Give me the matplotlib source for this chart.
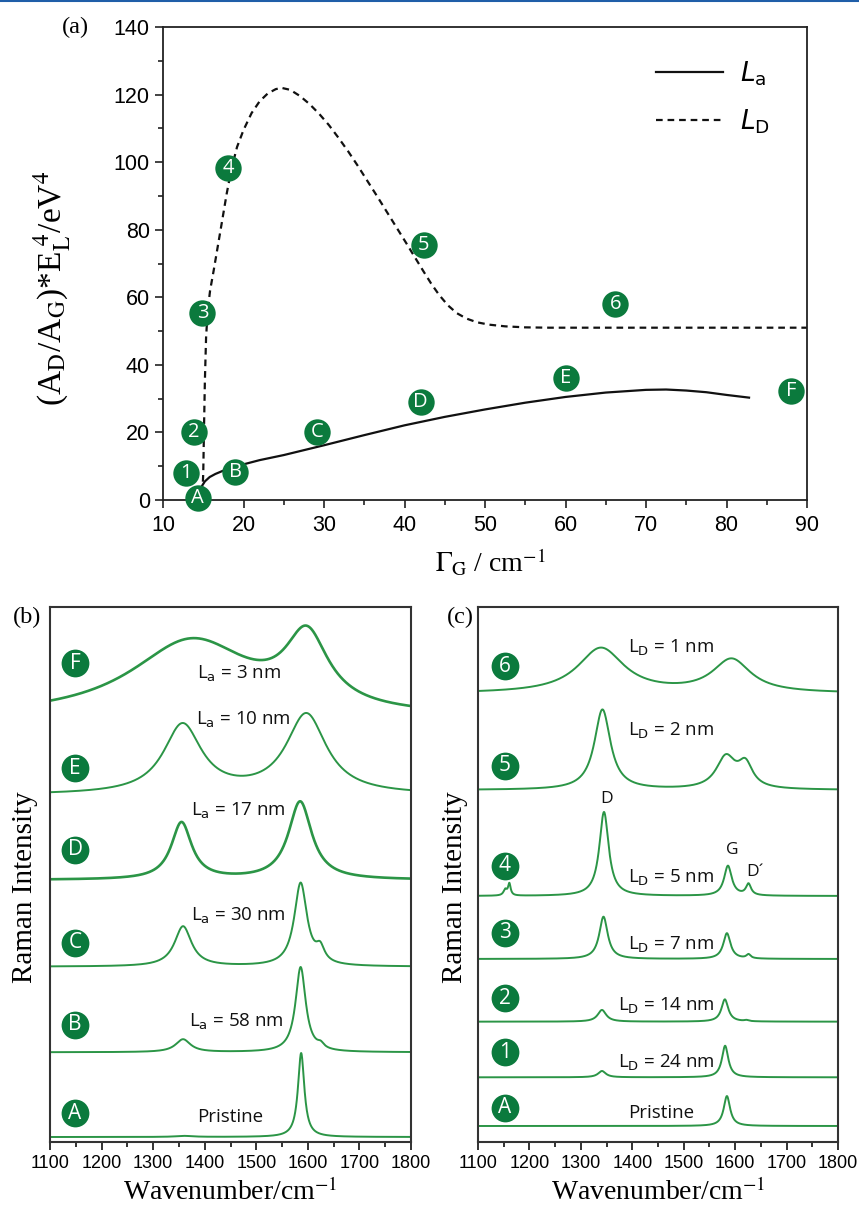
import numpy as np
import matplotlib
matplotlib.use('Agg')
import matplotlib.pyplot as plt
from matplotlib.ticker import MultipleLocator
from matplotlib.lines import Line2D

plt.rcParams['font.family'] = ['Liberation Sans', 'DejaVu Sans']
plt.rcParams['mathtext.fontset'] = 'stix'

# ---------------- Panel (a) data ----------------
La_x = [14.8, 15.2, 15.8, 16.5, 17.5, 18.5, 19.6, 22.0, 25.0, 30.0, 35.0, 40.0, 45.0,
        50.0, 55.0, 60.0, 65.0, 70.0, 72.5, 75.0, 77.5, 80.0, 82.8]
La_y = [4.0, 5.5, 6.8, 7.7, 8.7, 9.6, 10.3, 11.8, 13.3, 16.2, 19.2, 22.1, 24.6,
        26.8, 28.8, 30.5, 31.8, 32.6, 32.7, 32.4, 31.9, 31.1, 30.3]

LD_x = [14.9, 15.0, 15.1, 15.2, 15.35, 15.55, 15.85, 16.3, 16.8, 17.3, 17.9, 18.5,
        19.2, 20.0, 21.0, 22.0, 23.0, 24.0, 24.7, 25.8, 27.0, 28.2, 29.4, 30.6, 31.8,
        33.0, 34.2, 35.4, 36.6, 37.8, 39.0, 40.2, 41.3, 42.3, 43.3, 44.3, 45.4, 46.5,
        47.7, 49.0, 50.5, 52.5, 55.0, 58.0, 70.0, 80.0, 90.0]
LD_y = [2.0, 8.0, 22.0, 35.0, 48.0, 56.0, 62.0, 68.0, 75.0, 82.0, 90.5, 98.0,
        104.5, 109.5, 114.5, 118.0, 120.3, 121.6, 122.0, 121.4, 119.6, 117.2, 114.3, 111.0, 107.2,
        103.2, 98.9, 94.4, 89.9, 85.3, 80.7, 76.1, 71.8, 67.9, 64.1, 60.7, 57.6, 55.3,
        53.7, 52.6, 51.9, 51.4, 51.1, 51.0, 51.0, 51.0, 51.0]

pt_labels = ['1', '2', '3', '4', '5', '6', 'A', 'B', 'C', 'D', 'E', 'F']
pt_x = [12.9, 13.8, 14.9, 18.1, 42.4, 66.2, 14.3, 19.0, 29.1, 42.0, 60.0, 88.0]
pt_y = [7.9, 20.0, 55.3, 98.2, 75.4, 58.0, 0.5, 8.2, 20.0, 29.0, 36.1, 32.2]

# ---------------- Panel (b) data ----------------
# each spectrum: baseline, peaks (position cm-1, height, FWHM)
b_names = ['A', 'B', 'C', 'D', 'E', 'F']
b_baseline = [0.93, 16.77, 32.77, 48.97, 64.86, 79.25]
b_peaks = [
    [(1360, 0.2, 40), (1587, 15.7, 15)],
    [(1358, 2.4, 35), (1586, 15.9, 24), (1625, 0.8, 15)],
    [(1358, 7.5, 40), (1586, 15.5, 30), (1624, 2.6, 20)],
    [(1355, 10.65, 48), (1585, 14.6, 55)],
    [(1357, 12.9, 90), (1597, 14.9, 95)],
    [(1375, 14.3, 290), (1598, 13.0, 100)],
]
b_texts = ['Pristine', r'L$_\mathrm{a}$ = 58 nm', r'L$_\mathrm{a}$ = 30 nm',
           r'L$_\mathrm{a}$ = 17 nm', r'L$_\mathrm{a}$ = 10 nm', r'L$_\mathrm{a}$ = 3 nm']
b_text_x = [1449, 1462, 1466, 1466, 1474, 1466]
b_text_y = [5.05, 23.0, 42.8, 62.4, 79.4, 88.0]
b_circle_y = [5.4, 21.9, 37.2, 54.6, 69.9, 89.5]
b_lw = [1.4, 1.4, 1.4, 1.9, 1.4, 1.9]

# ---------------- Panel (c) data ----------------
c_names = ['A', '1', '2', '3', '4', '5', '6']
c_baseline = [2.99, 12.09, 22.49, 34.21, 45.98, 65.79, 83.83]
c_peaks = [
    [(1584, 5.6, 15)],
    [(1341, 1.18, 18), (1580.5, 5.9, 15)],
    [(1341, 2.19, 20), (1580, 4.17, 16), (1622, 0.2, 10)],
    [(1344, 7.9, 20), (1584, 4.8, 17), (1626, 0.75, 10)],
    [(1153, 1.1, 8), (1161, 2.2, 6), (1345, 15.7, 22), (1586, 5.6, 18), (1626, 2.1, 12)],
    [(1342, 15.0, 38), (1582, 5.9, 46), (1620, 4.3, 34)],
    [(1339, 8.4, 110), (1593, 6.2, 90)],
]
c_texts = ['Pristine', r'L$_\mathrm{D}$ = 24 nm', r'L$_\mathrm{D}$ = 14 nm',
           r'L$_\mathrm{D}$ = 7 nm', r'L$_\mathrm{D}$ = 5 nm', r'L$_\mathrm{D}$ = 2 nm',
           r'L$_\mathrm{D}$ = 1 nm']
c_text_x = [1456, 1466, 1466, 1475, 1475, 1475, 1475]
c_text_y = [5.85, 15.3, 26.0, 37.4, 49.9, 77.4, 92.8]
c_circle_y = [6.4, 16.8, 26.9, 39.07, 51.6, 70.3, 88.97]
band_names = ['D', 'G', 'D´']
band_x = [1350, 1594, 1639]
band_y = [64.2, 54.5, 50.4]

GREEN_DOT = '#0b7a3d'
GREEN_LINE = '#2b9546'
wn = np.linspace(1100, 1800, 1401)


def spectrum(base, peaks):
    y = np.full_like(wn, base)
    for pos, h, w in peaks:
        y += h / (1 + ((wn - pos) / (w / 2.0)) ** 2)
    return y


W, H = 859, 1205
fig = plt.figure(figsize=(W / 100, H / 100), dpi=100)
fig.add_artist(Line2D([0, 1], [1 - 1 / H, 1 - 1 / H], transform=fig.transFigure,
                      color='#1f5ea8', lw=1.5))

axA = fig.add_axes([163 / W, 1 - 500 / H, (807 - 163) / W, (500 - 27) / H])
axB = fig.add_axes([50 / W, 1 - 1142 / H, 361 / W, 535 / H])
axC = fig.add_axes([478 / W, 1 - 1142 / H, 360 / W, 535 / H])

# ---------------- Panel (a) ----------------
axA.plot(La_x, La_y, color='#111111', lw=1.6, label=r'$L_\mathrm{a}$')
axA.plot(LD_x, LD_y, color='#111111', lw=1.6, ls=(0, (3, 2.2)), label=r'$L_\mathrm{D}$')
axA.set_xlim(10, 90)
axA.set_ylim(0, 140)
axA.xaxis.set_major_locator(MultipleLocator(10))
axA.xaxis.set_minor_locator(MultipleLocator(5))
axA.yaxis.set_major_locator(MultipleLocator(20))
axA.yaxis.set_minor_locator(MultipleLocator(10))
axA.tick_params(which='both', direction='out', top=False, right=False, width=1.2,
                labelsize=15.5, color='#222222')
axA.tick_params(which='major', length=6)
axA.tick_params(which='minor', length=3.6)
axA.tick_params(axis='x', pad=5)
for s in axA.spines.values():
    s.set_linewidth(1.3)
    s.set_color('#222222')
axA.plot(pt_x, pt_y, 'o', ms=19, color=GREEN_DOT, mec='none', clip_on=False, zorder=5)
for lab, x, y in zip(pt_labels, pt_x, pt_y):
    axA.text(x, y, lab, color='white', ha='center', va='center', fontsize=14.5,
             family='Open Sans', zorder=6, clip_on=False)
leg = axA.legend(loc='upper left', bbox_to_anchor=(0.7655, 0.932), frameon=False,
                 borderaxespad=0, borderpad=0, handlelength=2.54, handletextpad=0.64,
                 labelspacing=0.75, prop={'size': 19, 'math_fontfamily': 'dejavusans'})
axA.set_ylabel(r'(A$_\mathrm{D}$/A$_\mathrm{G}$)*E$_\mathrm{L}^{\ 4}$/eV$^4$',
               family='Liberation Serif', fontsize=24)
axA.yaxis.label.set_va('center')
axA.yaxis.set_label_coords(-0.172, 0.448)
axA.set_xlabel(r'$\Gamma_\mathrm{G}$ / cm$^{-1}$', family='Liberation Serif', fontsize=20)
axA.xaxis.label.set_va('center')
axA.xaxis.set_label_coords(0.508, -0.132)
fig.text(75 / W, 1 - 27 / H, '(a)', family='Liberation Serif', fontsize=17.5,
         ha='center', va='center')


# ---------------- Panels (b), (c) ----------------
def style_spec(ax):
    ax.set_xlim(1100, 1800)
    ax.set_ylim(0, 100)
    ax.xaxis.set_major_locator(MultipleLocator(100))
    ax.xaxis.set_minor_locator(MultipleLocator(50))
    ax.set_yticks([])
    ax.tick_params(which='both', direction='out', top=False, right=False, left=False,
                   width=1.3, labelsize=13, color='#222222')
    ax.tick_params(which='major', length=5.5)
    ax.tick_params(which='minor', length=3.3)
    for s in ax.spines.values():
        s.set_linewidth(1.5)
        s.set_color('#333333')
    ax.set_xlabel('Wavenumber/cm$^{-1}$', family='Liberation Serif', fontsize=20)
    ax.xaxis.label.set_va('center')
    ax.xaxis.set_label_coords(0.5, -0.093)
    ax.set_ylabel('Raman Intensity', family='Liberation Serif', fontsize=21)
    ax.yaxis.label.set_va('center')


style_spec(axB)
axB.yaxis.set_label_coords(-0.069, 0.477)
for i, name in enumerate(b_names):
    axB.plot(wn, spectrum(b_baseline[i], b_peaks[i]), color=GREEN_LINE, lw=b_lw[i])
    axB.plot([1148.5], [b_circle_y[i]], 'o', ms=20, color=GREEN_DOT, mec='none', zorder=5)
    axB.text(1148.5, b_circle_y[i], name, color='white', ha='center', va='center',
             fontsize=15, family='Open Sans', zorder=6)
    axB.text(b_text_x[i], b_text_y[i], b_texts[i], ha='center', va='center_baseline',
             fontsize=13.5, family='Open Sans', math_fontfamily='dejavusans', color='#111111')
fig.text(27 / W, 1 - 617 / H, '(b)', family='Liberation Serif', fontsize=17.5,
         ha='center', va='center')

style_spec(axC)
axC.yaxis.set_label_coords(-0.064, 0.477)
for i, name in enumerate(c_names):
    axC.plot(wn, spectrum(c_baseline[i], c_peaks[i]), color=GREEN_LINE, lw=1.4)
    axC.plot([1152.5], [c_circle_y[i]], 'o', ms=20, color=GREEN_DOT, mec='none', zorder=5)
    axC.text(1152.5, c_circle_y[i], name, color='white', ha='center', va='center',
             fontsize=15, family='Open Sans', zorder=6)
    axC.text(c_text_x[i], c_text_y[i], c_texts[i], ha='center', va='center_baseline',
             fontsize=13.5, family='Open Sans', math_fontfamily='dejavusans', color='#111111')
for name, x, y in zip(band_names, band_x, band_y):
    axC.text(x, y, name, ha='center', va='center', fontsize=12.5, family='Open Sans',
             color='#111111')
fig.text(460 / W, 1 - 617 / H, '(c)', family='Liberation Serif', fontsize=17.5,
         ha='center', va='center')

fig.savefig('out.png', dpi=100)
